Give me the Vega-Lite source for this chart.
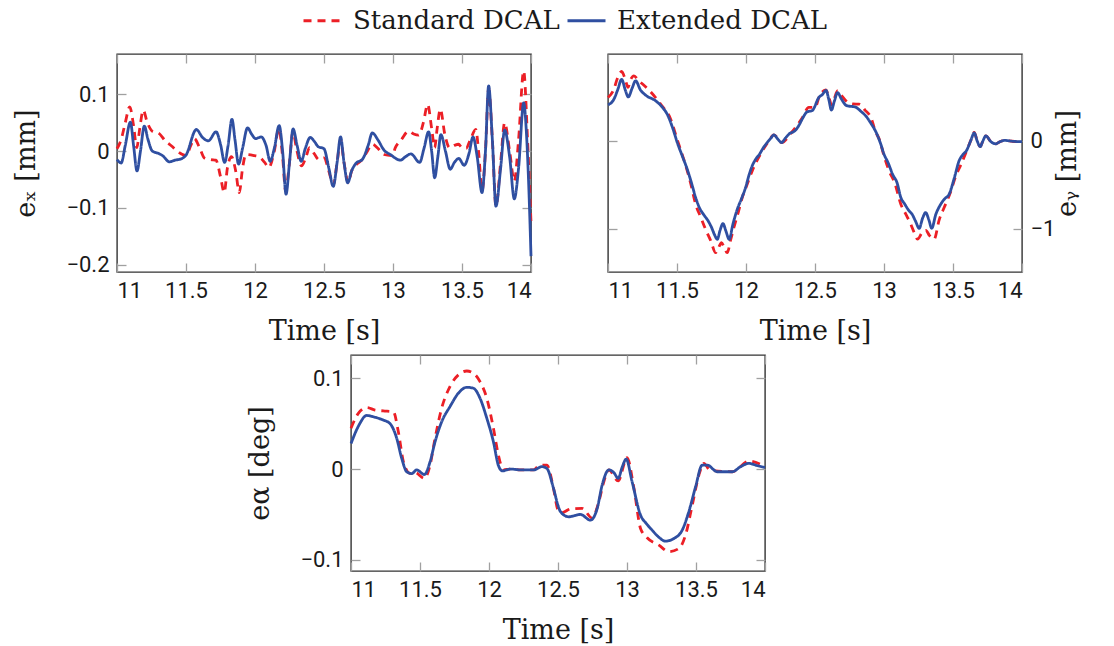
{
  "$schema": "https://vega.github.io/schema/vega-lite/v6.json",
  "autosize": {"type": "pad"},
  "padding": {"left": 12, "top": 0, "right": 10, "bottom": 4},
  "background": "white",
  "datasets": {
    "ex": [
      {"t":11.0,"v":-0.015,"s":"Extended DCAL"},{"t":11.03,"v":-0.021,"s":"Extended DCAL"},{"t":11.06,"v":0.01,"s":"Extended DCAL"},{"t":11.097,"v":0.051,"s":"Extended DCAL"},{"t":11.12,"v":0.01,"s":"Extended DCAL"},{"t":11.145,"v":-0.035,"s":"Extended DCAL"},{"t":11.17,"v":0.0,"s":"Extended DCAL"},{"t":11.198,"v":0.044,"s":"Extended DCAL"},{"t":11.225,"v":0.02,"s":"Extended DCAL"},{"t":11.256,"v":0.0,"s":"Extended DCAL"},{"t":11.3,"v":-0.004,"s":"Extended DCAL"},{"t":11.33,"v":-0.008,"s":"Extended DCAL"},{"t":11.38,"v":-0.019,"s":"Extended DCAL"},{"t":11.42,"v":-0.016,"s":"Extended DCAL"},{"t":11.462,"v":-0.014,"s":"Extended DCAL"},{"t":11.5,"v":-0.007,"s":"Extended DCAL"},{"t":11.575,"v":0.038,"s":"Extended DCAL"},{"t":11.62,"v":0.024,"s":"Extended DCAL"},{"t":11.662,"v":0.018,"s":"Extended DCAL"},{"t":11.718,"v":0.034,"s":"Extended DCAL"},{"t":11.75,"v":0.012,"s":"Extended DCAL"},{"t":11.78,"v":-0.02,"s":"Extended DCAL"},{"t":11.805,"v":0.01,"s":"Extended DCAL"},{"t":11.833,"v":0.056,"s":"Extended DCAL"},{"t":11.855,"v":0.02,"s":"Extended DCAL"},{"t":11.881,"v":-0.023,"s":"Extended DCAL"},{"t":11.91,"v":0.005,"s":"Extended DCAL"},{"t":11.946,"v":0.041,"s":"Extended DCAL"},{"t":11.975,"v":0.03,"s":"Extended DCAL"},{"t":12.005,"v":0.022,"s":"Extended DCAL"},{"t":12.045,"v":0.025,"s":"Extended DCAL"},{"t":12.08,"v":0.01,"s":"Extended DCAL"},{"t":12.11,"v":-0.018,"s":"Extended DCAL"},{"t":12.14,"v":0.005,"s":"Extended DCAL"},{"t":12.175,"v":0.045,"s":"Extended DCAL"},{"t":12.2,"v":0.0,"s":"Extended DCAL"},{"t":12.225,"v":-0.076,"s":"Extended DCAL"},{"t":12.25,"v":-0.02,"s":"Extended DCAL"},{"t":12.276,"v":0.039,"s":"Extended DCAL"},{"t":12.305,"v":0.01,"s":"Extended DCAL"},{"t":12.335,"v":-0.018,"s":"Extended DCAL"},{"t":12.365,"v":0.005,"s":"Extended DCAL"},{"t":12.4,"v":0.024,"s":"Extended DCAL"},{"t":12.43,"v":0.017,"s":"Extended DCAL"},{"t":12.457,"v":0.008,"s":"Extended DCAL"},{"t":12.5,"v":0.004,"s":"Extended DCAL"},{"t":12.535,"v":-0.03,"s":"Extended DCAL"},{"t":12.567,"v":-0.062,"s":"Extended DCAL"},{"t":12.595,"v":-0.02,"s":"Extended DCAL"},{"t":12.62,"v":0.025,"s":"Extended DCAL"},{"t":12.645,"v":-0.02,"s":"Extended DCAL"},{"t":12.672,"v":-0.056,"s":"Extended DCAL"},{"t":12.7,"v":-0.035,"s":"Extended DCAL"},{"t":12.73,"v":-0.022,"s":"Extended DCAL"},{"t":12.78,"v":-0.014,"s":"Extended DCAL"},{"t":12.82,"v":0.01,"s":"Extended DCAL"},{"t":12.85,"v":0.032,"s":"Extended DCAL"},{"t":12.89,"v":0.02,"s":"Extended DCAL"},{"t":12.934,"v":0.002,"s":"Extended DCAL"},{"t":12.98,"v":-0.006,"s":"Extended DCAL"},{"t":13.053,"v":-0.016,"s":"Extended DCAL"},{"t":13.09,"v":-0.01,"s":"Extended DCAL"},{"t":13.13,"v":-0.005,"s":"Extended DCAL"},{"t":13.193,"v":-0.02,"s":"Extended DCAL"},{"t":13.225,"v":0.005,"s":"Extended DCAL"},{"t":13.258,"v":0.034,"s":"Extended DCAL"},{"t":13.28,"v":0.0,"s":"Extended DCAL"},{"t":13.302,"v":-0.047,"s":"Extended DCAL"},{"t":13.325,"v":-0.01,"s":"Extended DCAL"},{"t":13.347,"v":0.029,"s":"Extended DCAL"},{"t":13.38,"v":0.0,"s":"Extended DCAL"},{"t":13.415,"v":-0.032,"s":"Extended DCAL"},{"t":13.445,"v":-0.02,"s":"Extended DCAL"},{"t":13.476,"v":-0.013,"s":"Extended DCAL"},{"t":13.516,"v":-0.025,"s":"Extended DCAL"},{"t":13.55,"v":-0.005,"s":"Extended DCAL"},{"t":13.58,"v":0.025,"s":"Extended DCAL"},{"t":13.61,"v":-0.01,"s":"Extended DCAL"},{"t":13.645,"v":-0.073,"s":"Extended DCAL"},{"t":13.67,"v":0.0,"s":"Extended DCAL"},{"t":13.693,"v":0.115,"s":"Extended DCAL"},{"t":13.72,"v":0.02,"s":"Extended DCAL"},{"t":13.746,"v":-0.097,"s":"Extended DCAL"},{"t":13.78,"v":-0.03,"s":"Extended DCAL"},{"t":13.809,"v":0.037,"s":"Extended DCAL"},{"t":13.845,"v":-0.01,"s":"Extended DCAL"},{"t":13.879,"v":-0.084,"s":"Extended DCAL"},{"t":13.91,"v":-0.03,"s":"Extended DCAL"},{"t":13.947,"v":0.085,"s":"Extended DCAL"},{"t":13.965,"v":0.04,"s":"Extended DCAL"},{"t":13.982,"v":-0.05,"s":"Extended DCAL"},{"t":14.0,"v":-0.185,"s":"Extended DCAL"},
      {"t":11.0,"v":0.004,"s":"Standard DCAL"},{"t":11.03,"v":0.02,"s":"Standard DCAL"},{"t":11.06,"v":0.05,"s":"Standard DCAL"},{"t":11.092,"v":0.078,"s":"Standard DCAL"},{"t":11.12,"v":0.045,"s":"Standard DCAL"},{"t":11.143,"v":0.006,"s":"Standard DCAL"},{"t":11.165,"v":0.04,"s":"Standard DCAL"},{"t":11.19,"v":0.072,"s":"Standard DCAL"},{"t":11.22,"v":0.05,"s":"Standard DCAL"},{"t":11.256,"v":0.035,"s":"Standard DCAL"},{"t":11.3,"v":0.032,"s":"Standard DCAL"},{"t":11.35,"v":0.018,"s":"Standard DCAL"},{"t":11.4,"v":0.008,"s":"Standard DCAL"},{"t":11.435,"v":0.0,"s":"Standard DCAL"},{"t":11.5,"v":-0.008,"s":"Standard DCAL"},{"t":11.535,"v":0.01,"s":"Standard DCAL"},{"t":11.56,"v":0.022,"s":"Standard DCAL"},{"t":11.6,"v":0.005,"s":"Standard DCAL"},{"t":11.633,"v":-0.012,"s":"Standard DCAL"},{"t":11.68,"v":-0.015,"s":"Standard DCAL"},{"t":11.717,"v":-0.016,"s":"Standard DCAL"},{"t":11.75,"v":-0.045,"s":"Standard DCAL"},{"t":11.777,"v":-0.073,"s":"Standard DCAL"},{"t":11.8,"v":-0.03,"s":"Standard DCAL"},{"t":11.83,"v":-0.01,"s":"Standard DCAL"},{"t":11.86,"v":-0.035,"s":"Standard DCAL"},{"t":11.886,"v":-0.073,"s":"Standard DCAL"},{"t":11.91,"v":-0.03,"s":"Standard DCAL"},{"t":11.934,"v":-0.006,"s":"Standard DCAL"},{"t":11.995,"v":-0.008,"s":"Standard DCAL"},{"t":12.03,"v":-0.01,"s":"Standard DCAL"},{"t":12.07,"v":-0.02,"s":"Standard DCAL"},{"t":12.1,"v":-0.029,"s":"Standard DCAL"},{"t":12.14,"v":0.0,"s":"Standard DCAL"},{"t":12.173,"v":0.04,"s":"Standard DCAL"},{"t":12.2,"v":-0.01,"s":"Standard DCAL"},{"t":12.222,"v":-0.07,"s":"Standard DCAL"},{"t":12.25,"v":-0.02,"s":"Standard DCAL"},{"t":12.275,"v":0.035,"s":"Standard DCAL"},{"t":12.3,"v":0.005,"s":"Standard DCAL"},{"t":12.337,"v":-0.026,"s":"Standard DCAL"},{"t":12.37,"v":-0.01,"s":"Standard DCAL"},{"t":12.395,"v":0.006,"s":"Standard DCAL"},{"t":12.43,"v":-0.005,"s":"Standard DCAL"},{"t":12.463,"v":-0.015,"s":"Standard DCAL"},{"t":12.5,"v":-0.012,"s":"Standard DCAL"},{"t":12.535,"v":-0.035,"s":"Standard DCAL"},{"t":12.567,"v":-0.06,"s":"Standard DCAL"},{"t":12.595,"v":-0.02,"s":"Standard DCAL"},{"t":12.62,"v":0.02,"s":"Standard DCAL"},{"t":12.645,"v":-0.02,"s":"Standard DCAL"},{"t":12.676,"v":-0.056,"s":"Standard DCAL"},{"t":12.7,"v":-0.035,"s":"Standard DCAL"},{"t":12.729,"v":-0.025,"s":"Standard DCAL"},{"t":12.777,"v":-0.015,"s":"Standard DCAL"},{"t":12.81,"v":-0.002,"s":"Standard DCAL"},{"t":12.85,"v":0.012,"s":"Standard DCAL"},{"t":12.89,"v":0.005,"s":"Standard DCAL"},{"t":12.934,"v":-0.006,"s":"Standard DCAL"},{"t":12.995,"v":-0.008,"s":"Standard DCAL"},{"t":13.017,"v":0.006,"s":"Standard DCAL"},{"t":13.06,"v":0.02,"s":"Standard DCAL"},{"t":13.113,"v":0.035,"s":"Standard DCAL"},{"t":13.15,"v":0.03,"s":"Standard DCAL"},{"t":13.186,"v":0.028,"s":"Standard DCAL"},{"t":13.22,"v":0.05,"s":"Standard DCAL"},{"t":13.251,"v":0.082,"s":"Standard DCAL"},{"t":13.28,"v":0.04,"s":"Standard DCAL"},{"t":13.302,"v":0.006,"s":"Standard DCAL"},{"t":13.32,"v":0.04,"s":"Standard DCAL"},{"t":13.343,"v":0.074,"s":"Standard DCAL"},{"t":13.375,"v":0.03,"s":"Standard DCAL"},{"t":13.41,"v":0.006,"s":"Standard DCAL"},{"t":13.445,"v":0.01,"s":"Standard DCAL"},{"t":13.475,"v":0.012,"s":"Standard DCAL"},{"t":13.5,"v":0.006,"s":"Standard DCAL"},{"t":13.53,"v":0.005,"s":"Standard DCAL"},{"t":13.56,"v":0.02,"s":"Standard DCAL"},{"t":13.6,"v":0.038,"s":"Standard DCAL"},{"t":13.62,"v":0.0,"s":"Standard DCAL"},{"t":13.645,"v":-0.07,"s":"Standard DCAL"},{"t":13.67,"v":0.0,"s":"Standard DCAL"},{"t":13.693,"v":0.11,"s":"Standard DCAL"},{"t":13.72,"v":0.02,"s":"Standard DCAL"},{"t":13.746,"v":-0.097,"s":"Standard DCAL"},{"t":13.78,"v":-0.02,"s":"Standard DCAL"},{"t":13.809,"v":0.05,"s":"Standard DCAL"},{"t":13.845,"v":0.0,"s":"Standard DCAL"},{"t":13.879,"v":-0.053,"s":"Standard DCAL"},{"t":13.91,"v":0.02,"s":"Standard DCAL"},{"t":13.947,"v":0.141,"s":"Standard DCAL"},{"t":13.975,"v":0.02,"s":"Standard DCAL"},{"t":14.0,"v":-0.126,"s":"Standard DCAL"}
    ],
    "ey": [
      {"t":11.0,"v":0.41,"s":"Extended DCAL"},{"t":11.043,"v":0.475,"s":"Extended DCAL"},{"t":11.07,"v":0.58,"s":"Extended DCAL"},{"t":11.099,"v":0.7,"s":"Extended DCAL"},{"t":11.125,"v":0.58,"s":"Extended DCAL"},{"t":11.147,"v":0.5,"s":"Extended DCAL"},{"t":11.175,"v":0.6,"s":"Extended DCAL"},{"t":11.2,"v":0.684,"s":"Extended DCAL"},{"t":11.235,"v":0.58,"s":"Extended DCAL"},{"t":11.273,"v":0.52,"s":"Extended DCAL"},{"t":11.345,"v":0.456,"s":"Extended DCAL"},{"t":11.39,"v":0.39,"s":"Extended DCAL"},{"t":11.43,"v":0.3,"s":"Extended DCAL"},{"t":11.47,"v":0.14,"s":"Extended DCAL"},{"t":11.502,"v":-0.02,"s":"Extended DCAL"},{"t":11.54,"v":-0.18,"s":"Extended DCAL"},{"t":11.574,"v":-0.323,"s":"Extended DCAL"},{"t":11.605,"v":-0.48,"s":"Extended DCAL"},{"t":11.635,"v":-0.646,"s":"Extended DCAL"},{"t":11.665,"v":-0.77,"s":"Extended DCAL"},{"t":11.695,"v":-0.844,"s":"Extended DCAL"},{"t":11.725,"v":-0.91,"s":"Extended DCAL"},{"t":11.751,"v":-0.989,"s":"Extended DCAL"},{"t":11.775,"v":-1.08,"s":"Extended DCAL"},{"t":11.792,"v":-1.122,"s":"Extended DCAL"},{"t":11.812,"v":-1.02,"s":"Extended DCAL"},{"t":11.833,"v":-0.943,"s":"Extended DCAL"},{"t":11.855,"v":-1.03,"s":"Extended DCAL"},{"t":11.878,"v":-1.122,"s":"Extended DCAL"},{"t":11.905,"v":-0.95,"s":"Extended DCAL"},{"t":11.937,"v":-0.779,"s":"Extended DCAL"},{"t":11.967,"v":-0.66,"s":"Extended DCAL"},{"t":11.997,"v":-0.532,"s":"Extended DCAL"},{"t":12.02,"v":-0.4,"s":"Extended DCAL"},{"t":12.045,"v":-0.285,"s":"Extended DCAL"},{"t":12.07,"v":-0.21,"s":"Extended DCAL"},{"t":12.098,"v":-0.152,"s":"Extended DCAL"},{"t":12.125,"v":-0.08,"s":"Extended DCAL"},{"t":12.154,"v":-0.019,"s":"Extended DCAL"},{"t":12.18,"v":0.03,"s":"Extended DCAL"},{"t":12.202,"v":0.068,"s":"Extended DCAL"},{"t":12.23,"v":0.02,"s":"Extended DCAL"},{"t":12.258,"v":-0.019,"s":"Extended DCAL"},{"t":12.285,"v":0.03,"s":"Extended DCAL"},{"t":12.311,"v":0.076,"s":"Extended DCAL"},{"t":12.359,"v":0.122,"s":"Extended DCAL"},{"t":12.385,"v":0.18,"s":"Extended DCAL"},{"t":12.407,"v":0.247,"s":"Extended DCAL"},{"t":12.443,"v":0.33,"s":"Extended DCAL"},{"t":12.48,"v":0.345,"s":"Extended DCAL"},{"t":12.528,"v":0.494,"s":"Extended DCAL"},{"t":12.555,"v":0.53,"s":"Extended DCAL"},{"t":12.58,"v":0.575,"s":"Extended DCAL"},{"t":12.6,"v":0.47,"s":"Extended DCAL"},{"t":12.619,"v":0.35,"s":"Extended DCAL"},{"t":12.64,"v":0.45,"s":"Extended DCAL"},{"t":12.664,"v":0.55,"s":"Extended DCAL"},{"t":12.69,"v":0.48,"s":"Extended DCAL"},{"t":12.73,"v":0.4,"s":"Extended DCAL"},{"t":12.793,"v":0.385,"s":"Extended DCAL"},{"t":12.83,"v":0.34,"s":"Extended DCAL"},{"t":12.87,"v":0.28,"s":"Extended DCAL"},{"t":12.905,"v":0.2,"s":"Extended DCAL"},{"t":12.945,"v":0.09,"s":"Extended DCAL"},{"t":12.975,"v":-0.03,"s":"Extended DCAL"},{"t":13.0,"v":-0.152,"s":"Extended DCAL"},{"t":13.03,"v":-0.25,"s":"Extended DCAL"},{"t":13.062,"v":-0.38,"s":"Extended DCAL"},{"t":13.095,"v":-0.48,"s":"Extended DCAL"},{"t":13.122,"v":-0.646,"s":"Extended DCAL"},{"t":13.15,"v":-0.72,"s":"Extended DCAL"},{"t":13.182,"v":-0.798,"s":"Extended DCAL"},{"t":13.204,"v":-0.837,"s":"Extended DCAL"},{"t":13.23,"v":-0.92,"s":"Extended DCAL"},{"t":13.255,"v":-0.996,"s":"Extended DCAL"},{"t":13.28,"v":-0.88,"s":"Extended DCAL"},{"t":13.302,"v":-0.817,"s":"Extended DCAL"},{"t":13.325,"v":-0.9,"s":"Extended DCAL"},{"t":13.346,"v":-0.996,"s":"Extended DCAL"},{"t":13.375,"v":-0.84,"s":"Extended DCAL"},{"t":13.411,"v":-0.722,"s":"Extended DCAL"},{"t":13.44,"v":-0.66,"s":"Extended DCAL"},{"t":13.472,"v":-0.608,"s":"Extended DCAL"},{"t":13.51,"v":-0.42,"s":"Extended DCAL"},{"t":13.544,"v":-0.228,"s":"Extended DCAL"},{"t":13.57,"v":-0.16,"s":"Extended DCAL"},{"t":13.6,"v":-0.105,"s":"Extended DCAL"},{"t":13.628,"v":0.0,"s":"Extended DCAL"},{"t":13.654,"v":0.09,"s":"Extended DCAL"},{"t":13.675,"v":0.0,"s":"Extended DCAL"},{"t":13.697,"v":-0.066,"s":"Extended DCAL"},{"t":13.717,"v":0.0,"s":"Extended DCAL"},{"t":13.738,"v":0.057,"s":"Extended DCAL"},{"t":13.775,"v":-0.01,"s":"Extended DCAL"},{"t":13.81,"v":-0.034,"s":"Extended DCAL"},{"t":13.84,"v":-0.01,"s":"Extended DCAL"},{"t":13.875,"v":0.005,"s":"Extended DCAL"},{"t":13.93,"v":-0.005,"s":"Extended DCAL"},{"t":14.0,"v":-0.01,"s":"Extended DCAL"},
      {"t":11.0,"v":0.494,"s":"Standard DCAL"},{"t":11.043,"v":0.59,"s":"Standard DCAL"},{"t":11.07,"v":0.72,"s":"Standard DCAL"},{"t":11.099,"v":0.79,"s":"Standard DCAL"},{"t":11.125,"v":0.7,"s":"Standard DCAL"},{"t":11.145,"v":0.61,"s":"Standard DCAL"},{"t":11.165,"v":0.7,"s":"Standard DCAL"},{"t":11.188,"v":0.74,"s":"Standard DCAL"},{"t":11.22,"v":0.69,"s":"Standard DCAL"},{"t":11.297,"v":0.578,"s":"Standard DCAL"},{"t":11.381,"v":0.418,"s":"Standard DCAL"},{"t":11.454,"v":0.247,"s":"Standard DCAL"},{"t":11.5,"v":0.02,"s":"Standard DCAL"},{"t":11.56,"v":-0.266,"s":"Standard DCAL"},{"t":11.6,"v":-0.49,"s":"Standard DCAL"},{"t":11.635,"v":-0.722,"s":"Standard DCAL"},{"t":11.672,"v":-0.87,"s":"Standard DCAL"},{"t":11.707,"v":-1.008,"s":"Standard DCAL"},{"t":11.745,"v":-1.14,"s":"Standard DCAL"},{"t":11.78,"v":-1.274,"s":"Standard DCAL"},{"t":11.8,"v":-1.22,"s":"Standard DCAL"},{"t":11.823,"v":-1.16,"s":"Standard DCAL"},{"t":11.843,"v":-1.22,"s":"Standard DCAL"},{"t":11.864,"v":-1.274,"s":"Standard DCAL"},{"t":11.89,"v":-1.12,"s":"Standard DCAL"},{"t":11.912,"v":-0.989,"s":"Standard DCAL"},{"t":11.943,"v":-0.82,"s":"Standard DCAL"},{"t":11.973,"v":-0.646,"s":"Standard DCAL"},{"t":12.01,"v":-0.49,"s":"Standard DCAL"},{"t":12.045,"v":-0.342,"s":"Standard DCAL"},{"t":12.105,"v":-0.152,"s":"Standard DCAL"},{"t":12.166,"v":0.0,"s":"Standard DCAL"},{"t":12.202,"v":0.068,"s":"Standard DCAL"},{"t":12.258,"v":-0.019,"s":"Standard DCAL"},{"t":12.33,"v":0.095,"s":"Standard DCAL"},{"t":12.407,"v":0.26,"s":"Standard DCAL"},{"t":12.455,"v":0.38,"s":"Standard DCAL"},{"t":12.5,"v":0.38,"s":"Standard DCAL"},{"t":12.53,"v":0.5,"s":"Standard DCAL"},{"t":12.578,"v":0.58,"s":"Standard DCAL"},{"t":12.6,"v":0.5,"s":"Standard DCAL"},{"t":12.62,"v":0.41,"s":"Standard DCAL"},{"t":12.64,"v":0.48,"s":"Standard DCAL"},{"t":12.663,"v":0.57,"s":"Standard DCAL"},{"t":12.69,"v":0.52,"s":"Standard DCAL"},{"t":12.724,"v":0.456,"s":"Standard DCAL"},{"t":12.775,"v":0.42,"s":"Standard DCAL"},{"t":12.82,"v":0.418,"s":"Standard DCAL"},{"t":12.862,"v":0.35,"s":"Standard DCAL"},{"t":12.905,"v":0.266,"s":"Standard DCAL"},{"t":12.94,"v":0.1,"s":"Standard DCAL"},{"t":12.965,"v":0.02,"s":"Standard DCAL"},{"t":13.0,"v":-0.17,"s":"Standard DCAL"},{"t":13.037,"v":-0.342,"s":"Standard DCAL"},{"t":13.08,"v":-0.49,"s":"Standard DCAL"},{"t":13.122,"v":-0.722,"s":"Standard DCAL"},{"t":13.16,"v":-0.84,"s":"Standard DCAL"},{"t":13.194,"v":-0.95,"s":"Standard DCAL"},{"t":13.22,"v":-1.05,"s":"Standard DCAL"},{"t":13.243,"v":-1.12,"s":"Standard DCAL"},{"t":13.275,"v":-1.05,"s":"Standard DCAL"},{"t":13.303,"v":-1.02,"s":"Standard DCAL"},{"t":13.33,"v":-1.08,"s":"Standard DCAL"},{"t":13.363,"v":-1.12,"s":"Standard DCAL"},{"t":13.4,"v":-0.9,"s":"Standard DCAL"},{"t":13.436,"v":-0.76,"s":"Standard DCAL"},{"t":13.481,"v":-0.589,"s":"Standard DCAL"},{"t":13.52,"v":-0.4,"s":"Standard DCAL"},{"t":13.555,"v":-0.28,"s":"Standard DCAL"},{"t":13.6,"v":-0.11,"s":"Standard DCAL"},{"t":13.628,"v":0.0,"s":"Standard DCAL"},{"t":13.654,"v":0.095,"s":"Standard DCAL"},{"t":13.675,"v":0.0,"s":"Standard DCAL"},{"t":13.697,"v":-0.066,"s":"Standard DCAL"},{"t":13.717,"v":0.0,"s":"Standard DCAL"},{"t":13.738,"v":0.057,"s":"Standard DCAL"},{"t":13.775,"v":-0.01,"s":"Standard DCAL"},{"t":13.81,"v":-0.034,"s":"Standard DCAL"},{"t":13.84,"v":-0.01,"s":"Standard DCAL"},{"t":13.875,"v":0.005,"s":"Standard DCAL"},{"t":13.93,"v":-0.005,"s":"Standard DCAL"},{"t":14.0,"v":-0.01,"s":"Standard DCAL"}
    ],
    "ea": [
      {"t":11.0,"v":0.028,"s":"Extended DCAL"},{"t":11.053,"v":0.047,"s":"Extended DCAL"},{"t":11.114,"v":0.059,"s":"Extended DCAL"},{"t":11.174,"v":0.057,"s":"Extended DCAL"},{"t":11.234,"v":0.054,"s":"Extended DCAL"},{"t":11.283,"v":0.05,"s":"Extended DCAL"},{"t":11.331,"v":0.034,"s":"Extended DCAL"},{"t":11.367,"v":0.012,"s":"Extended DCAL"},{"t":11.404,"v":-0.003,"s":"Extended DCAL"},{"t":11.44,"v":-0.005,"s":"Extended DCAL"},{"t":11.476,"v":-0.001,"s":"Extended DCAL"},{"t":11.532,"v":-0.006,"s":"Extended DCAL"},{"t":11.573,"v":0.008,"s":"Extended DCAL"},{"t":11.609,"v":0.03,"s":"Extended DCAL"},{"t":11.657,"v":0.052,"s":"Extended DCAL"},{"t":11.718,"v":0.069,"s":"Extended DCAL"},{"t":11.778,"v":0.0835,"s":"Extended DCAL"},{"t":11.839,"v":0.09,"s":"Extended DCAL"},{"t":11.887,"v":0.089,"s":"Extended DCAL"},{"t":11.935,"v":0.078,"s":"Extended DCAL"},{"t":11.984,"v":0.056,"s":"Extended DCAL"},{"t":12.032,"v":0.03,"s":"Extended DCAL"},{"t":12.068,"v":0.004,"s":"Extended DCAL"},{"t":12.097,"v":-0.002,"s":"Extended DCAL"},{"t":12.153,"v":0.0,"s":"Extended DCAL"},{"t":12.238,"v":-0.001,"s":"Extended DCAL"},{"t":12.322,"v":-0.001,"s":"Extended DCAL"},{"t":12.383,"v":0.0026,"s":"Extended DCAL"},{"t":12.419,"v":0.0007,"s":"Extended DCAL"},{"t":12.467,"v":-0.021,"s":"Extended DCAL"},{"t":12.5,"v":-0.04,"s":"Extended DCAL"},{"t":12.518,"v":-0.047,"s":"Extended DCAL"},{"t":12.578,"v":-0.0526,"s":"Extended DCAL"},{"t":12.663,"v":-0.05,"s":"Extended DCAL"},{"t":12.735,"v":-0.0563,"s":"Extended DCAL"},{"t":12.784,"v":-0.0434,"s":"Extended DCAL"},{"t":12.82,"v":-0.0176,"s":"Extended DCAL"},{"t":12.868,"v":-0.001,"s":"Extended DCAL"},{"t":12.905,"v":-0.004,"s":"Extended DCAL"},{"t":12.936,"v":-0.0103,"s":"Extended DCAL"},{"t":12.965,"v":0.002,"s":"Extended DCAL"},{"t":12.994,"v":0.011,"s":"Extended DCAL"},{"t":13.037,"v":-0.014,"s":"Extended DCAL"},{"t":13.098,"v":-0.0507,"s":"Extended DCAL"},{"t":13.14,"v":-0.06,"s":"Extended DCAL"},{"t":13.182,"v":-0.0673,"s":"Extended DCAL"},{"t":13.23,"v":-0.075,"s":"Extended DCAL"},{"t":13.279,"v":-0.0794,"s":"Extended DCAL"},{"t":13.34,"v":-0.0765,"s":"Extended DCAL"},{"t":13.4,"v":-0.0673,"s":"Extended DCAL"},{"t":13.448,"v":-0.047,"s":"Extended DCAL"},{"t":13.497,"v":-0.0195,"s":"Extended DCAL"},{"t":13.545,"v":0.0044,"s":"Extended DCAL"},{"t":13.581,"v":0.0044,"s":"Extended DCAL"},{"t":13.654,"v":-0.003,"s":"Extended DCAL"},{"t":13.763,"v":-0.003,"s":"Extended DCAL"},{"t":13.823,"v":0.0026,"s":"Extended DCAL"},{"t":13.884,"v":0.0063,"s":"Extended DCAL"},{"t":13.944,"v":0.0037,"s":"Extended DCAL"},{"t":14.0,"v":0.0018,"s":"Extended DCAL"},
      {"t":11.0,"v":0.045,"s":"Standard DCAL"},{"t":11.053,"v":0.0614,"s":"Standard DCAL"},{"t":11.114,"v":0.0676,"s":"Standard DCAL"},{"t":11.174,"v":0.065,"s":"Standard DCAL"},{"t":11.234,"v":0.064,"s":"Standard DCAL"},{"t":11.307,"v":0.063,"s":"Standard DCAL"},{"t":11.343,"v":0.041,"s":"Standard DCAL"},{"t":11.38,"v":0.008,"s":"Standard DCAL"},{"t":11.428,"v":-0.0048,"s":"Standard DCAL"},{"t":11.464,"v":-0.0037,"s":"Standard DCAL"},{"t":11.532,"v":-0.0103,"s":"Standard DCAL"},{"t":11.573,"v":0.0044,"s":"Standard DCAL"},{"t":11.609,"v":0.0338,"s":"Standard DCAL"},{"t":11.657,"v":0.067,"s":"Standard DCAL"},{"t":11.718,"v":0.091,"s":"Standard DCAL"},{"t":11.778,"v":0.1037,"s":"Standard DCAL"},{"t":11.839,"v":0.108,"s":"Standard DCAL"},{"t":11.887,"v":0.1055,"s":"Standard DCAL"},{"t":11.935,"v":0.0963,"s":"Standard DCAL"},{"t":11.984,"v":0.078,"s":"Standard DCAL"},{"t":12.032,"v":0.045,"s":"Standard DCAL"},{"t":12.068,"v":0.0154,"s":"Standard DCAL"},{"t":12.105,"v":-0.001,"s":"Standard DCAL"},{"t":12.153,"v":0.0,"s":"Standard DCAL"},{"t":12.238,"v":-0.001,"s":"Standard DCAL"},{"t":12.322,"v":-0.001,"s":"Standard DCAL"},{"t":12.37,"v":0.0044,"s":"Standard DCAL"},{"t":12.419,"v":0.0044,"s":"Standard DCAL"},{"t":12.467,"v":-0.021,"s":"Standard DCAL"},{"t":12.5,"v":-0.045,"s":"Standard DCAL"},{"t":12.53,"v":-0.048,"s":"Standard DCAL"},{"t":12.59,"v":-0.044,"s":"Standard DCAL"},{"t":12.675,"v":-0.0434,"s":"Standard DCAL"},{"t":12.747,"v":-0.054,"s":"Standard DCAL"},{"t":12.796,"v":-0.036,"s":"Standard DCAL"},{"t":12.832,"v":-0.014,"s":"Standard DCAL"},{"t":12.868,"v":-0.001,"s":"Standard DCAL"},{"t":12.936,"v":-0.013,"s":"Standard DCAL"},{"t":13.0,"v":0.0125,"s":"Standard DCAL"},{"t":13.05,"v":-0.021,"s":"Standard DCAL"},{"t":13.098,"v":-0.0654,"s":"Standard DCAL"},{"t":13.146,"v":-0.0757,"s":"Standard DCAL"},{"t":13.231,"v":-0.0838,"s":"Standard DCAL"},{"t":13.303,"v":-0.091,"s":"Standard DCAL"},{"t":13.376,"v":-0.0875,"s":"Standard DCAL"},{"t":13.424,"v":-0.0728,"s":"Standard DCAL"},{"t":13.473,"v":-0.0397,"s":"Standard DCAL"},{"t":13.521,"v":-0.0066,"s":"Standard DCAL"},{"t":13.557,"v":0.0063,"s":"Standard DCAL"},{"t":13.6,"v":-0.001,"s":"Standard DCAL"},{"t":13.763,"v":-0.003,"s":"Standard DCAL"},{"t":13.884,"v":0.0088,"s":"Standard DCAL"},{"t":13.98,"v":0.0044,"s":"Standard DCAL"},{"t":14.0,"v":0.003,"s":"Standard DCAL"}
    ]
  },
  "spacing": 8,
  "vconcat": [
    {
      "hconcat": [
        {
          "width": 414, "height": 218,
          "data": {"name": "ex"},
          "layer": [
            {
              "transform": [{"filter": "datum.s === 'Standard DCAL'"}],
              "mark": {"type": "line", "interpolate": "monotone", "strokeWidth": 2.8},
              "encoding": {
                "x": {"field": "t", "type": "quantitative", "title": "Time [s]", "scale": {"domain": [11, 14], "nice": false, "zero": false}, "axis": {"orient": "bottom", "values": [11, 11.5, 12, 12.5, 13, 13.5, 14], "format": "~g"}},
                "y": {"field": "v", "type": "quantitative", "title": "eₓ [mm]", "scale": {"domain": [-0.213, 0.171], "nice": false, "zero": false}, "axis": {"orient": "left", "values": [-0.2, -0.1, 0, 0.1], "format": "~g"}},
                "color": {"field": "s", "type": "nominal", "scale": {"domain": ["Standard DCAL", "Extended DCAL"], "range": ["#ec1f26", "#2f4fa1"]}, "legend": {"orient": "none", "legendX": 185, "legendY": -54, "direction": "horizontal", "title": null}},
                "strokeDash": {"field": "s", "type": "nominal", "scale": {"domain": ["Standard DCAL", "Extended DCAL"], "range": [[8, 6], [1, 0]]}, "legend": {"orient": "none", "legendX": 185, "legendY": -54, "direction": "horizontal", "title": null}}
              }
            },
            {
              "transform": [{"filter": "datum.s === 'Extended DCAL'"}],
              "mark": {"type": "line", "interpolate": "monotone", "strokeWidth": 2.8},
              "encoding": {
                "x": {"field": "t", "type": "quantitative", "title": null, "axis": {"orient": "top", "values": [11, 11.5, 12, 12.5, 13, 13.5, 14], "labels": false}},
                "y": {"field": "v", "type": "quantitative", "title": null, "axis": {"orient": "right", "values": [-0.2, -0.1, 0, 0.1], "labels": false}},
                "color": {"field": "s", "type": "nominal", "scale": {"domain": ["Standard DCAL", "Extended DCAL"], "range": ["#ec1f26", "#2f4fa1"]}, "legend": {"orient": "none", "legendX": 185, "legendY": -54, "direction": "horizontal", "title": null}},
                "strokeDash": {"field": "s", "type": "nominal", "scale": {"domain": ["Standard DCAL", "Extended DCAL"], "range": [[8, 6], [1, 0]]}, "legend": {"orient": "none", "legendX": 185, "legendY": -54, "direction": "horizontal", "title": null}}
              }
            }
          ],
          "resolve": {"axis": {"x": "independent", "y": "independent"}}
        },
        {
          "width": 414, "height": 218,
          "data": {"name": "ey"},
          "layer": [
            {
              "transform": [{"filter": "datum.s === 'Standard DCAL'"}],
              "mark": {"type": "line", "interpolate": "monotone", "strokeWidth": 2.8},
              "encoding": {
                "x": {"field": "t", "type": "quantitative", "title": "Time [s]", "scale": {"domain": [11, 14], "nice": false, "zero": false}, "axis": {"orient": "bottom", "values": [11, 11.5, 12, 12.5, 13, 13.5, 14], "format": "~g"}},
                "y": {"field": "v", "type": "quantitative", "title": "eᵧ [mm]", "scale": {"domain": [-1.494, 0.989], "nice": false, "zero": false}, "axis": {"orient": "right", "values": [-1, 0], "format": "~g", "titleAngle": 270, "titleBaseline": "top", "titlePadding": 0}},
                "color": {"field": "s", "type": "nominal", "scale": {"domain": ["Standard DCAL", "Extended DCAL"], "range": ["#ec1f26", "#2f4fa1"]}, "legend": {"orient": "none", "legendX": 185, "legendY": -54, "direction": "horizontal", "title": null}},
                "strokeDash": {"field": "s", "type": "nominal", "scale": {"domain": ["Standard DCAL", "Extended DCAL"], "range": [[8, 6], [1, 0]]}, "legend": {"orient": "none", "legendX": 185, "legendY": -54, "direction": "horizontal", "title": null}}
              }
            },
            {
              "transform": [{"filter": "datum.s === 'Extended DCAL'"}],
              "mark": {"type": "line", "interpolate": "monotone", "strokeWidth": 2.8},
              "encoding": {
                "x": {"field": "t", "type": "quantitative", "title": null, "axis": {"orient": "top", "values": [11, 11.5, 12, 12.5, 13, 13.5, 14], "labels": false}},
                "y": {"field": "v", "type": "quantitative", "title": null, "axis": {"orient": "left", "values": [-1, 0], "labels": false}},
                "color": {"field": "s", "type": "nominal", "scale": {"domain": ["Standard DCAL", "Extended DCAL"], "range": ["#ec1f26", "#2f4fa1"]}, "legend": {"orient": "none", "legendX": 185, "legendY": -54, "direction": "horizontal", "title": null}},
                "strokeDash": {"field": "s", "type": "nominal", "scale": {"domain": ["Standard DCAL", "Extended DCAL"], "range": [[8, 6], [1, 0]]}, "legend": {"orient": "none", "legendX": 185, "legendY": -54, "direction": "horizontal", "title": null}}
              }
            }
          ],
          "resolve": {"axis": {"x": "independent", "y": "independent"}}
        }
      ],
      "spacing": 77,
      "bounds": "flush"
    },
    {
      "hconcat": [
        {
          "width": 200, "height": 216,
          "data": {"values": []},
          "mark": "point",
          "view": {"stroke": null}
        },
        {
          "width": 414, "height": 216,
          "data": {"name": "ea"},
          "layer": [
            {
              "transform": [{"filter": "datum.s === 'Standard DCAL'"}],
              "mark": {"type": "line", "interpolate": "monotone", "strokeWidth": 2.8},
              "encoding": {
                "x": {"field": "t", "type": "quantitative", "title": "Time [s]", "scale": {"domain": [11, 14], "nice": false, "zero": false}, "axis": {"orient": "bottom", "values": [11, 11.5, 12, 12.5, 13, 13.5, 14], "format": "~g"}},
                "y": {"field": "v", "type": "quantitative", "title": "eα [deg]", "scale": {"domain": [-0.1123, 0.1256], "nice": false, "zero": false}, "axis": {"orient": "left", "values": [-0.1, 0, 0.1], "format": "~g"}},
                "color": {"field": "s", "type": "nominal", "scale": {"domain": ["Standard DCAL", "Extended DCAL"], "range": ["#ec1f26", "#2f4fa1"]}, "legend": {"orient": "none", "legendX": 185, "legendY": -54, "direction": "horizontal", "title": null}},
                "strokeDash": {"field": "s", "type": "nominal", "scale": {"domain": ["Standard DCAL", "Extended DCAL"], "range": [[8, 6], [1, 0]]}, "legend": {"orient": "none", "legendX": 185, "legendY": -54, "direction": "horizontal", "title": null}}
              }
            },
            {
              "transform": [{"filter": "datum.s === 'Extended DCAL'"}],
              "mark": {"type": "line", "interpolate": "monotone", "strokeWidth": 2.8},
              "encoding": {
                "x": {"field": "t", "type": "quantitative", "title": null, "axis": {"orient": "top", "values": [11, 11.5, 12, 12.5, 13, 13.5, 14], "labels": false}},
                "y": {"field": "v", "type": "quantitative", "title": null, "axis": {"orient": "right", "values": [-0.1, 0, 0.1], "labels": false}},
                "color": {"field": "s", "type": "nominal", "scale": {"domain": ["Standard DCAL", "Extended DCAL"], "range": ["#ec1f26", "#2f4fa1"]}, "legend": {"orient": "none", "legendX": 185, "legendY": -54, "direction": "horizontal", "title": null}},
                "strokeDash": {"field": "s", "type": "nominal", "scale": {"domain": ["Standard DCAL", "Extended DCAL"], "range": [[8, 6], [1, 0]]}, "legend": {"orient": "none", "legendX": 185, "legendY": -54, "direction": "horizontal", "title": null}}
              }
            }
          ],
          "resolve": {"axis": {"x": "independent", "y": "independent"}}
        }
      ],
      "spacing": 34,
      "bounds": "flush"
    }
  ],
  "config": {
    "view": {"stroke": "#333333", "strokeWidth": 1.4},
    "axis": {"grid": false, "domain": false, "tickColor": "#a0a0a0", "tickWidth": 1.3, "tickSize": -9, "labelPadding": 17, "labelFont": "Roboto", "labelFontSize": 22, "labelColor": "#1a1a1a", "titleFont": "DejaVu Serif", "titleFontSize": 27, "titleFontWeight": "normal", "titleColor": "#1a1a1a"},
    "axisX": {"titlePadding": 17},
    "axisY": {"titlePadding": 25},
    "legend": {"labelFont": "DejaVu Serif", "labelFontSize": 26, "labelColor": "#1a1a1a", "symbolType": "stroke", "symbolSize": 1444, "symbolStrokeWidth": 2.8, "labelOffset": 10, "columnPadding": 1, "labelLimit": 400}
  }
}
